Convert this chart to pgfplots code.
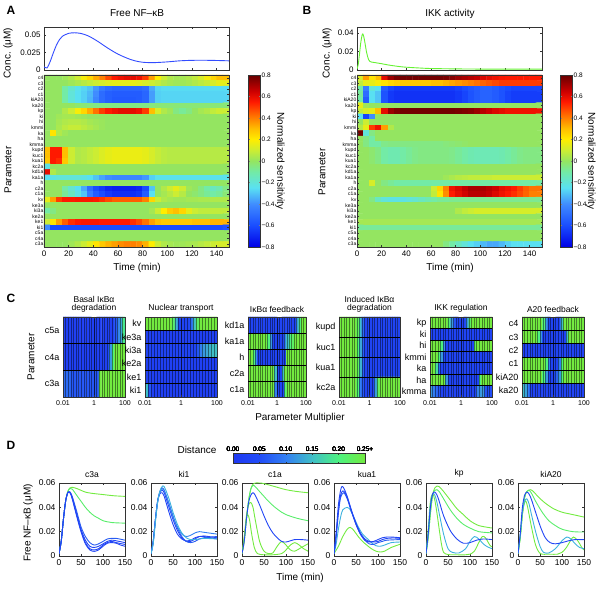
\documentclass[border=0pt]{standalone}
\usepackage{pgfplots}
\pgfplotsset{compat=1.18}
\usepackage{pgfplotstable}
\usepackage{fontspec}
\setmainfont{Liberation Sans}
\newcommand\fs[1]{\fontsize{#1}{#1}\selectfont}

\definecolor{dB}{rgb}{0.13,0.27,0.96}
\definecolor{dB2}{rgb}{0.16,0.36,0.95}
\definecolor{dM}{rgb}{0.2,0.5,0.95}
\definecolor{dC}{rgb}{0.24,0.7,0.87}
\definecolor{dG}{rgb}{0.35,0.93,0.42}
\definecolor{dGG}{rgb}{0.45,0.92,0.25}
\definecolor{topblue}{rgb}{0.2,0.3,1}
\definecolor{topgreen}{rgb}{0.4,0.95,0.2}

\pgfplotsset{
 colormap={sens}{rgb(0pt)=(0,0,0.9) rgb(20pt)=(0.1,0.3,1) rgb(40pt)=(0.25,0.55,1) rgb(55pt)=(0.35,0.88,0.95) rgb(70pt)=(0.45,0.92,0.65) rgb(80pt)=(0.58,0.9,0.38) rgb(90pt)=(0.8,0.93,0.2) rgb(100pt)=(1,0.93,0) rgb(110pt)=(1,0.75,0) rgb(120pt)=(1,0.5,0) rgb(135pt)=(1,0.1,0) rgb(145pt)=(0.8,0,0) rgb(160pt)=(0.4,0,0)},
 colormap={dist}{rgb(0pt)=(0.12,0.22,0.95) rgb(5pt)=(0.13,0.3,0.97) rgb(10pt)=(0.2,0.5,0.95) rgb(15pt)=(0.25,0.75,0.78) rgb(20pt)=(0.3,0.95,0.5) rgb(25pt)=(0.45,0.92,0.25)},
 base/.style={scale only axis, tick align=inside, axis line style={black!80, line width=0.4pt}, every tick/.style={black!80, line width=0.4pt}, major tick length=2pt, /pgf/number format/assume math mode=true, scaled ticks=false, tick label style={font=\fs{7.5}}, enlargelimits=false},
 heat/.style={base, width=185pt, height=172pt, xmin=0, xmax=150, ymin=-0.5, ymax=30.5, y dir=reverse, xtick={0,20,...,140}, ytick={0,1,...,30}, axis on top, point meta min=-0.8, point meta max=0.8, colormap name=sens, xticklabel style={font=\fs{8}}, yticklabel style={font=\fs{5}, inner sep=0.5pt}, major tick length=1.5pt,
   yticklabels={c4,c3,c2,c1,kiA20,ka20,kp,ki,hi,kmmi,ka,ha,kmma,kupd,kuc1,kua1,kc2a,kd1a,ka1a,h,c2a,c1a,kv,ke3a,ki3a,ke2a,ke1,ki1,c5a,c4a,c3a}},
 topl/.style={base, width=185pt, height=43pt, xmin=0, xmax=150, xtick={0,20,...,140}, xticklabels={}, yticklabel style={font=\fs{8}}},
 sub/.style={base, height=80pt, xmin=-2, xmax=2, ymin=-0.5, y dir=reverse, xtick={-2,0,2}, xticklabels={0.01,1,100}, xticklabel style={font=\fs{7}}, yticklabel style={font=\fs{9}}, ytick style={draw=none}, axis on top, point meta min=0, point meta max=0.25, colormap name=dist, minor xtick={-1.833333,-1.666667,...,1.9}, minor tick length=0pt, xmajorgrids, xminorgrids, x grid style={black, opacity=0.45, line width=0.3pt}, title style={font=\fs{8.5}, align=center, yshift=-5pt}, extra y tick labels={}, extra y tick style={grid=major, y grid style={black, line width=0.6pt}, major tick length=0pt}},
 dplot/.style={base, width=66pt, height=73pt, xmin=0, xmax=150, ymin=0, ymax=0.06, xtick={0,50,100,150}, ytick={0,0.02,0.04,0.06}, yticklabels={0,0.02,0.04,0.06}, tick label style={font=\fs{8.5}}, title style={font=\fs{8.5}, yshift=-4pt}, every axis plot/.append style={line width=0.9pt, smooth}},
 table/hm30/.style={x index=0, y index=0, meta index=0, x expr={2.5+5*(\coordindex-30*floor((\coordindex+0.5)/30))}, y expr={floor((\coordindex+0.5)/30)}},
 table/hm24/.style={x index=0, y index=0, meta index=0, x expr={-2+(\coordindex-24*floor((\coordindex+0.5)/24)+0.5)/6}, y expr={floor((\coordindex+0.5)/24)}},
}

\pgfplotstableread[row sep=crcr,header=false]{
0\\0\\0\\0.02\\0.05\\0.1\\0.18\\0.25\\0.33\\0.4\\
0.48\\0.55\\0.58\\0.6\\0.6\\0.58\\0.5\\0.35\\0.2\\0.1\\
0.05\\0.03\\0.03\\0.05\\0.08\\0.12\\0.18\\0.25\\0.3\\0.3\\
0\\0\\0\\0\\0.02\\0.04\\0.06\\0.08\\0.1\\0.12\\
0.14\\0.15\\0.15\\0.15\\0.15\\0.14\\0.12\\0.1\\0.08\\0.05\\
0.03\\0.02\\0.02\\0.03\\0.05\\0.07\\0.09\\0.12\\0.15\\0.15\\
0\\0\\0\\-0.1\\-0.18\\-0.24\\-0.27\\-0.3\\-0.38\\-0.46\\
-0.5\\-0.52\\-0.52\\-0.52\\-0.52\\-0.52\\-0.5\\-0.35\\-0.27\\-0.26\\
-0.26\\-0.26\\-0.26\\-0.26\\-0.26\\-0.26\\-0.26\\-0.26\\-0.26\\-0.26\\
0\\0\\0\\-0.1\\-0.2\\-0.25\\-0.28\\-0.32\\-0.4\\-0.5\\
-0.54\\-0.55\\-0.55\\-0.55\\-0.55\\-0.55\\-0.52\\-0.37\\-0.28\\-0.27\\
-0.27\\-0.27\\-0.27\\-0.27\\-0.27\\-0.27\\-0.27\\-0.27\\-0.27\\-0.27\\
0\\0\\0\\-0.1\\-0.2\\-0.25\\-0.28\\-0.33\\-0.42\\-0.5\\
-0.54\\-0.56\\-0.56\\-0.56\\-0.56\\-0.55\\-0.52\\-0.37\\-0.28\\-0.27\\
-0.27\\-0.27\\-0.27\\-0.27\\-0.27\\-0.27\\-0.27\\-0.27\\-0.27\\-0.27\\
0\\0\\0\\0\\0\\-0.02\\-0.03\\-0.04\\-0.05\\-0.05\\
-0.05\\-0.05\\-0.05\\-0.05\\-0.05\\-0.05\\-0.05\\-0.04\\-0.03\\-0.03\\
-0.03\\-0.03\\-0.03\\-0.03\\-0.03\\-0.03\\-0.03\\-0.03\\-0.03\\-0.03\\
0\\0\\0\\0.05\\0.1\\0.18\\0.25\\0.33\\0.42\\0.5\\
0.55\\0.58\\0.6\\0.6\\0.6\\0.58\\0.5\\0.3\\0.12\\0.05\\
0.02\\-0.05\\-0.08\\-0.05\\0\\0.03\\0.05\\0.08\\0.1\\0.1\\
0\\0\\0.02\\0.03\\0.03\\0.02\\0.01\\0\\0\\0\\
0\\0\\0\\0\\0\\0\\0\\0\\0\\0\\
0\\0\\0\\0\\0\\0\\0\\0\\0\\0\\
0\\0\\0.03\\0.05\\0.06\\0.06\\0.05\\0.03\\0.02\\0.01\\
0\\0\\0\\0\\0\\0\\0\\0\\0\\0\\
0\\0\\0\\0\\0\\0\\0\\0\\0\\0\\
0\\0\\0.04\\0.07\\0.09\\0.09\\0.07\\0.05\\0.03\\0.01\\
0\\0\\0\\0\\0\\0\\0\\0\\0\\0\\
0\\0\\0\\0\\0\\0\\0\\0\\0\\0\\
0\\0.22\\0.05\\0.02\\0\\0\\0\\0\\0\\0\\
0\\0\\0\\0\\0\\0\\0\\0\\0\\0\\
0\\0\\0\\0\\0\\0\\0\\0\\0\\0\\
0\\0\\0\\0\\0\\0\\0\\0\\0\\0\\
0\\0\\0\\0\\0\\0\\0\\0\\0\\0\\
0\\0\\0\\0\\0\\0\\0\\0\\0\\0\\
0\\0\\0\\0\\0\\0\\0\\0\\0\\0\\
0\\0\\0\\0\\0\\0\\0\\0\\0\\0\\
0\\0\\0\\0\\0\\0\\0\\0\\0\\0\\
0.3\\0.55\\0.55\\0.3\\0.1\\0.05\\0.06\\0.08\\0.1\\0.13\\
0.15\\0.16\\0.16\\0.16\\0.16\\0.16\\0.15\\0.12\\0.09\\0.07\\
0.06\\0.06\\0.06\\0.06\\0.06\\0.06\\0.06\\0.06\\0.06\\0.06\\
0.3\\0.55\\0.55\\0.3\\0.1\\0.05\\0.06\\0.08\\0.1\\0.13\\
0.15\\0.16\\0.16\\0.16\\0.16\\0.16\\0.15\\0.12\\0.09\\0.07\\
0.06\\0.06\\0.06\\0.06\\0.06\\0.06\\0.06\\0.06\\0.06\\0.06\\
0.28\\0.55\\0.52\\0.28\\0.1\\0.05\\0.06\\0.08\\0.1\\0.13\\
0.15\\0.16\\0.16\\0.16\\0.16\\0.16\\0.15\\0.12\\0.09\\0.07\\
0.06\\0.06\\0.06\\0.06\\0.06\\0.06\\0.06\\0.06\\0.06\\0.06\\
-0.22\\0\\0\\0\\0\\0\\0\\0\\0\\0\\
0\\0\\0\\0\\0\\0\\0\\0\\0\\0\\
0\\0\\0\\0\\0\\0\\0\\0\\0\\0\\
0.6\\0.05\\0\\0\\0\\0\\0\\0\\0\\0\\
0\\0\\0\\0\\0\\0\\0\\0\\0\\0\\
0\\0\\0\\0\\0\\0\\0\\0\\0\\0\\
-0.25\\-0.22\\-0.2\\-0.2\\-0.2\\-0.2\\-0.22\\-0.25\\-0.3\\-0.36\\
-0.4\\-0.42\\-0.42\\-0.42\\-0.42\\-0.42\\-0.38\\-0.28\\-0.24\\-0.24\\
-0.24\\-0.24\\-0.24\\-0.24\\-0.24\\-0.24\\-0.24\\-0.24\\-0.24\\-0.24\\
0\\0\\0\\0\\0\\0\\0\\0\\0\\0\\
0\\0\\0\\0\\0\\0\\0\\0\\0\\0\\
0\\0\\0\\0\\0\\0\\0\\0\\0\\0\\
0\\0\\0\\-0.1\\-0.18\\-0.25\\-0.35\\-0.5\\-0.6\\-0.65\\
-0.7\\-0.72\\-0.72\\-0.72\\-0.72\\-0.7\\-0.6\\-0.3\\0\\0.05\\
0.1\\0.15\\0.1\\0.02\\0\\-0.05\\-0.1\\-0.15\\-0.12\\-0.05\\
0\\0\\0\\-0.08\\-0.15\\-0.22\\-0.3\\-0.45\\-0.55\\-0.6\\
-0.65\\-0.68\\-0.68\\-0.68\\-0.68\\-0.66\\-0.55\\-0.25\\0\\0.03\\
0.06\\0.1\\0.06\\0\\-0.02\\-0.05\\-0.08\\-0.1\\-0.08\\-0.03\\
0.15\\0.35\\0.5\\0.55\\0.55\\0.56\\0.56\\0.56\\0.55\\0.52\\
0.48\\0.45\\0.45\\0.45\\0.45\\0.45\\0.4\\0.25\\0.1\\0.05\\
0.03\\0.02\\0.02\\0.03\\0.03\\0.04\\0.04\\0.05\\0.05\\0.05\\
0\\0\\0\\0\\0\\0\\0\\0\\0\\0\\
0\\0\\0\\0\\0\\0\\0\\0\\0\\0\\
0\\0\\0\\0\\0\\0\\0\\0\\0\\0\\
-0.1\\-0.05\\0\\0\\0\\0\\0\\0\\0\\0\\
0\\0\\0\\0\\0\\0\\0\\0.03\\0.1\\0.2\\
0.27\\0.3\\0.25\\0.15\\0.1\\0.08\\0.08\\0.08\\0.08\\0.08\\
0\\0\\0\\0\\0\\0\\0\\0\\0\\0\\
0\\0\\0\\0\\0\\0\\0\\0\\0\\0\\
0\\0\\0\\0\\0\\0\\0\\0\\0\\0\\
0.1\\0.22\\0.35\\0.45\\0.52\\0.55\\0.56\\0.56\\0.56\\0.55\\
0.55\\0.55\\0.55\\0.55\\0.52\\0.48\\0.42\\0.35\\0.3\\0.28\\
0.28\\0.28\\0.28\\0.28\\0.3\\0.3\\0.3\\0.32\\0.32\\0.32\\
-0.4\\-0.6\\-0.6\\-0.6\\-0.6\\-0.6\\-0.6\\-0.6\\-0.6\\-0.6\\
-0.6\\-0.6\\-0.6\\-0.6\\-0.6\\-0.6\\-0.6\\-0.6\\-0.6\\-0.6\\
-0.6\\-0.6\\-0.6\\-0.6\\-0.6\\-0.6\\-0.6\\-0.6\\-0.6\\-0.58\\
0\\0\\0\\0\\0\\0\\0\\0\\0\\0\\
0\\0\\0\\0\\0\\0\\0\\0\\0\\0\\
0\\0\\0\\0\\0\\0\\0\\0\\0\\0\\
0\\0\\0\\0\\0\\0\\0\\0\\0\\0\\
0\\0\\0\\0\\0\\0\\0\\0\\0\\0\\
0\\0\\0\\0\\0\\0\\0\\0\\0\\0\\
0\\0\\0\\0\\0.02\\0.05\\0.1\\0.15\\0.22\\0.28\\
0.32\\0.35\\0.38\\0.4\\0.4\\0.38\\0.32\\0.2\\0.1\\0.05\\
0.03\\0.02\\0.02\\0.03\\0.04\\0.06\\0.08\\0.1\\0.12\\0.12\\
}\tA

\pgfplotstableread[row sep=crcr,header=false]{
0.12\\0.35\\0.22\\0.3\\0.6\\0.72\\0.77\\0.78\\0.78\\0.78\\
0.78\\0.78\\0.78\\0.78\\0.77\\0.75\\0.72\\0.7\\0.68\\0.66\\
0.62\\0.6\\0.58\\0.56\\0.55\\0.55\\0.55\\0.55\\0.55\\0.55\\
0.08\\0.15\\0.15\\0.18\\0.22\\0.25\\0.27\\0.28\\0.28\\0.28\\
0.28\\0.28\\0.3\\0.3\\0.32\\0.34\\0.36\\0.38\\0.4\\0.42\\
0.44\\0.46\\0.48\\0.5\\0.5\\0.5\\0.5\\0.5\\0.5\\0.5\\
-0.1\\-0.45\\-0.2\\-0.25\\-0.55\\-0.62\\-0.65\\-0.65\\-0.65\\-0.65\\
-0.65\\-0.65\\-0.65\\-0.65\\-0.65\\-0.65\\-0.63\\-0.6\\-0.57\\-0.55\\
-0.53\\-0.53\\-0.55\\-0.58\\-0.6\\-0.62\\-0.62\\-0.62\\-0.62\\-0.62\\
-0.08\\-0.5\\-0.25\\-0.3\\-0.58\\-0.65\\-0.67\\-0.67\\-0.67\\-0.67\\
-0.67\\-0.67\\-0.67\\-0.67\\-0.67\\-0.67\\-0.65\\-0.62\\-0.58\\-0.55\\
-0.53\\-0.53\\-0.55\\-0.58\\-0.62\\-0.64\\-0.64\\-0.64\\-0.64\\-0.64\\
-0.1\\-0.55\\-0.25\\-0.3\\-0.58\\-0.65\\-0.67\\-0.67\\-0.67\\-0.67\\
-0.67\\-0.67\\-0.67\\-0.67\\-0.67\\-0.67\\-0.65\\-0.62\\-0.58\\-0.55\\
-0.53\\-0.53\\-0.55\\-0.58\\-0.62\\-0.64\\-0.64\\-0.64\\-0.64\\-0.64\\
0.15\\0.02\\0\\0\\0\\0\\0\\0\\0\\0\\
0\\0\\0\\0\\0\\0\\0\\0\\0\\0\\
0\\0\\0\\0\\0\\0\\0\\0\\0\\0\\
0.08\\0.12\\0.15\\0.3\\0.6\\0.72\\0.76\\0.78\\0.78\\0.78\\
0.78\\0.78\\0.78\\0.78\\0.78\\0.78\\0.77\\0.76\\0.75\\0.72\\
0.68\\0.65\\0.62\\0.6\\0.58\\0.58\\0.58\\0.58\\0.58\\0.58\\
-0.25\\-0.62\\-0.4\\0\\0\\0\\0\\0\\0\\0\\
0\\0\\0\\0\\0\\0\\0\\0\\0\\0\\
0\\0\\0\\0\\0\\0\\0\\0\\0\\0\\
0\\0.1\\0\\0\\0\\0\\0\\0\\0\\0\\
0\\0\\0\\0\\0\\0\\0\\0\\0\\0\\
0\\0\\0\\0\\0\\0\\0\\0\\0\\0\\
0.05\\0.15\\0.5\\0.58\\0.35\\0.05\\0\\0\\0\\0\\
0\\0\\0\\0\\0\\0\\0\\0\\0\\0\\
0\\0\\0\\0\\0\\0\\0\\0\\0\\0\\
0.78\\-0.2\\-0.05\\0\\0\\0\\0\\0\\0\\0\\
0\\0\\0\\0\\0\\0\\0\\0\\0\\0\\
0\\0\\0\\0\\0\\0\\0\\0\\0\\0\\
0\\-0.05\\-0.1\\0\\0\\0\\0\\0\\0\\0\\
0\\0\\0\\0\\0\\0\\0\\0\\0\\0\\
0\\0\\0\\0\\0\\0\\0\\0\\0\\0\\
0\\-0.05\\-0.1\\-0.1\\-0.06\\-0.05\\-0.05\\-0.05\\-0.05\\-0.05\\
-0.05\\-0.05\\-0.05\\-0.05\\-0.04\\-0.03\\-0.02\\-0.01\\0\\0\\
0\\0\\0\\0\\0\\0\\0\\0\\0\\0\\
0\\0\\-0.02\\-0.05\\-0.1\\-0.12\\-0.12\\-0.1\\-0.08\\-0.06\\
-0.05\\-0.05\\-0.05\\-0.05\\-0.05\\-0.06\\-0.08\\-0.1\\-0.12\\-0.13\\
-0.13\\-0.13\\-0.13\\-0.12\\-0.1\\-0.08\\-0.06\\-0.05\\-0.05\\-0.05\\
0\\0\\-0.02\\-0.05\\-0.1\\-0.12\\-0.12\\-0.1\\-0.08\\-0.06\\
-0.05\\-0.05\\-0.05\\-0.05\\-0.05\\-0.06\\-0.08\\-0.1\\-0.12\\-0.13\\
-0.13\\-0.13\\-0.13\\-0.12\\-0.1\\-0.08\\-0.06\\-0.05\\-0.05\\-0.05\\
0\\0\\-0.02\\-0.05\\-0.1\\-0.12\\-0.12\\-0.1\\-0.08\\-0.06\\
-0.05\\-0.05\\-0.05\\-0.05\\-0.05\\-0.06\\-0.08\\-0.1\\-0.12\\-0.13\\
-0.13\\-0.13\\-0.13\\-0.12\\-0.1\\-0.08\\-0.06\\-0.05\\-0.05\\-0.05\\
0\\0\\0\\0\\0\\0\\0\\0\\0\\0\\
0\\0\\0\\0\\0\\0\\0\\0\\0\\0\\
0\\0\\0\\0\\0\\0\\0\\0\\0\\0\\
0\\0\\0\\0\\0\\0\\0\\0\\0\\0\\
0\\0\\0\\0\\0\\0\\0\\0\\0\\0\\
0\\0\\0\\0\\0\\0\\0\\0\\0\\0\\
0\\0\\0\\0\\0\\0\\0\\0\\0\\0\\
0\\0\\0\\0\\0.02\\0.04\\0.06\\0.07\\0.08\\0.08\\
0.09\\0.09\\0.1\\0.1\\0.1\\0.1\\0.1\\0.1\\0.1\\0.1\\
0\\0\\0.12\\0\\-0.05\\-0.08\\-0.1\\-0.1\\-0.1\\-0.1\\
-0.1\\-0.1\\-0.1\\-0.1\\-0.1\\-0.1\\-0.1\\-0.1\\-0.1\\-0.1\\
-0.1\\-0.1\\-0.1\\-0.1\\-0.1\\-0.1\\-0.1\\-0.1\\-0.1\\-0.1\\
0\\0\\0\\0\\0\\0\\0\\0\\0\\0\\
0\\0\\0.1\\0.25\\0.4\\0.58\\0.62\\0.66\\0.7\\0.7\\
0.7\\0.68\\0.65\\0.6\\0.58\\0.55\\0.5\\0.45\\0.42\\0.42\\
0\\0\\0\\0\\0\\0\\0\\0\\0\\0\\
0\\0\\0.08\\0.22\\0.38\\0.55\\0.6\\0.64\\0.68\\0.68\\
0.68\\0.66\\0.62\\0.58\\0.55\\0.52\\0.48\\0.44\\0.4\\0.4\\
0\\0\\-0.05\\-0.15\\-0.2\\-0.22\\-0.22\\-0.22\\-0.2\\-0.18\\
-0.15\\-0.12\\-0.1\\-0.08\\-0.08\\-0.07\\-0.07\\-0.07\\-0.07\\-0.07\\
-0.07\\-0.07\\-0.07\\-0.07\\-0.07\\-0.07\\-0.07\\-0.07\\-0.07\\-0.07\\
0\\0\\0\\0\\0\\0\\0\\0\\0\\0\\
0\\0\\0\\0\\0\\0\\0\\0\\0\\0\\
0\\0\\0\\0\\0\\0\\0\\0\\0\\0\\
0\\0\\0\\0\\0\\0\\0\\0\\0\\0\\
0\\0\\0\\0\\0\\0\\0.05\\0.08\\0.1\\0.12\\
0.12\\0.12\\0.12\\0.12\\0.12\\0.12\\0.12\\0.12\\0.12\\0.12\\
0\\0\\0\\0\\0\\0\\0\\0\\0\\0\\
0\\0\\0\\0\\0\\0\\0\\0\\0\\0\\
0\\0\\0\\0\\0\\0\\0\\0\\0\\0\\
0.03\\0.03\\0.03\\0.03\\0.03\\0.03\\0.03\\0.03\\0.03\\0.03\\
0.03\\0.03\\0.03\\0.03\\0.03\\0.03\\0.03\\0.03\\0.03\\0.03\\
0.03\\0.03\\0.03\\0.03\\0.03\\0.03\\0.03\\0.03\\0.03\\0.03\\
-0.08\\-0.08\\-0.08\\-0.08\\-0.08\\-0.08\\-0.08\\-0.08\\-0.08\\-0.08\\
-0.08\\-0.08\\-0.08\\-0.08\\-0.08\\-0.08\\-0.08\\-0.08\\-0.08\\-0.08\\
-0.08\\-0.08\\-0.08\\-0.08\\-0.08\\-0.08\\-0.08\\-0.08\\-0.08\\-0.08\\
0\\0\\0\\0\\0\\0\\0\\0\\0\\0\\
0\\0\\0\\0\\0\\0\\0\\0\\0\\0\\
0\\0\\0\\0\\0\\0\\0\\0\\0\\0\\
0\\0\\0\\0\\0\\0\\0\\0\\0\\0\\
0\\0\\0\\0\\0\\0\\0\\0\\0\\0\\
0\\0\\0\\0\\0\\0\\0\\0\\0\\0\\
0\\0\\0\\0\\0\\0\\0\\0\\0\\0\\
0\\0\\0\\0\\-0.05\\-0.1\\-0.15\\-0.2\\-0.25\\-0.28\\
-0.32\\-0.35\\-0.35\\-0.32\\-0.28\\-0.25\\-0.25\\-0.25\\-0.25\\-0.25\\
}\tB

% Panel C tables: rows top to bottom, 24 multiplier columns (log10 -2..2)
\pgfplotstableread[row sep=crcr,header=false]{
0.02\\0.02\\0.02\\0.02\\0.02\\0.02\\0.02\\0.02\\0.02\\0.02\\0.02\\0.02\\
0.02\\0.02\\0.02\\0.02\\0.02\\0.02\\0.02\\0.02\\0.06\\0.1\\0.13\\0.19\\
0.02\\0.02\\0.02\\0.02\\0.02\\0.02\\0.02\\0.02\\0.02\\0.02\\0.02\\0.02\\
0.02\\0.02\\0.02\\0.02\\0.02\\0.05\\0.12\\0.2\\0.27\\0.27\\0.27\\0.27\\
0.08\\0.08\\0.08\\0.06\\0.06\\0.06\\0.06\\0.06\\0.06\\0.06\\0.06\\0.06\\
0.06\\0.06\\0.25\\0.27\\0.27\\0.27\\0.27\\0.27\\0.27\\0.27\\0.27\\0.27\\
}\tSa
\pgfplotstableread[row sep=crcr,header=false]{
0.27\\0.27\\0.27\\0.27\\0.27\\0.27\\0.27\\0.27\\0.27\\0.22\\0.14\\0.03\\
0.03\\0.03\\0.03\\0.08\\0.15\\0.22\\0.27\\0.27\\0.27\\0.27\\0.27\\0.27\\
0.02\\0.02\\0.02\\0.02\\0.02\\0.02\\0.02\\0.02\\0.02\\0.02\\0.02\\0.02\\
0.02\\0.02\\0.02\\0.02\\0.02\\0.02\\0.02\\0.02\\0.02\\0.02\\0.02\\0.02\\
0.03\\0.03\\0.03\\0.03\\0.03\\0.03\\0.03\\0.03\\0.03\\0.03\\0.03\\0.03\\
0.03\\0.03\\0.03\\0.03\\0.03\\0.06\\0.1\\0.12\\0.13\\0.14\\0.15\\0.15\\
0.02\\0.02\\0.02\\0.02\\0.02\\0.02\\0.02\\0.02\\0.02\\0.02\\0.02\\0.02\\
0.02\\0.02\\0.02\\0.02\\0.02\\0.02\\0.02\\0.02\\0.02\\0.02\\0.02\\0.02\\
0.02\\0.02\\0.02\\0.02\\0.02\\0.02\\0.02\\0.02\\0.02\\0.02\\0.02\\0.02\\
0.02\\0.02\\0.02\\0.02\\0.02\\0.02\\0.02\\0.02\\0.02\\0.02\\0.02\\0.02\\
0.15\\0.06\\0.02\\0.02\\0.02\\0.02\\0.02\\0.02\\0.02\\0.02\\0.02\\0.02\\
0.02\\0.02\\0.02\\0.02\\0.02\\0.02\\0.02\\0.02\\0.02\\0.02\\0.02\\0.02\\
}\tSb
\pgfplotstableread[row sep=crcr,header=false]{
0.03\\0.03\\0.03\\0.03\\0.03\\0.03\\0.03\\0.03\\0.03\\0.03\\0.03\\0.03\\
0.03\\0.03\\0.03\\0.03\\0.03\\0.03\\0.03\\0.03\\0.12\\0.2\\0.27\\0.27\\
0.27\\0.27\\0.27\\0.27\\0.27\\0.27\\0.27\\0.27\\0.2\\0.12\\0.03\\0.03\\
0.03\\0.03\\0.03\\0.1\\0.15\\0.2\\0.22\\0.25\\0.27\\0.27\\0.27\\0.27\\
0.27\\0.27\\0.2\\0.12\\0.03\\0.03\\0.03\\0.03\\0.03\\0.03\\0.03\\0.03\\
0.03\\0.03\\0.03\\0.03\\0.27\\0.27\\0.27\\0.27\\0.27\\0.27\\0.27\\0.27\\
0.27\\0.27\\0.27\\0.27\\0.27\\0.27\\0.27\\0.27\\0.27\\0.27\\0.27\\0.15\\
0.03\\0.03\\0.15\\0.27\\0.27\\0.27\\0.27\\0.27\\0.27\\0.27\\0.27\\0.27\\
0.27\\0.27\\0.27\\0.27\\0.27\\0.27\\0.27\\0.27\\0.27\\0.27\\0.27\\0.1\\
0.03\\0.03\\0.03\\0.2\\0.27\\0.27\\0.27\\0.27\\0.27\\0.27\\0.27\\0.27\\
}\tSc
\pgfplotstableread[row sep=crcr,header=false]{
0.27\\0.27\\0.27\\0.27\\0.27\\0.27\\0.27\\0.22\\0.15\\0.08\\0.03\\0.03\\
0.03\\0.03\\0.03\\0.03\\0.03\\0.03\\0.03\\0.03\\0.03\\0.03\\0.03\\0.03\\
0.27\\0.27\\0.27\\0.27\\0.27\\0.27\\0.27\\0.2\\0.13\\0.07\\0.03\\0.03\\
0.03\\0.03\\0.03\\0.03\\0.03\\0.03\\0.03\\0.03\\0.03\\0.03\\0.03\\0.03\\
0.27\\0.27\\0.27\\0.27\\0.27\\0.27\\0.27\\0.22\\0.14\\0.07\\0.03\\0.03\\
0.03\\0.03\\0.03\\0.03\\0.03\\0.03\\0.03\\0.03\\0.03\\0.03\\0.03\\0.03\\
0.27\\0.27\\0.27\\0.27\\0.27\\0.27\\0.27\\0.2\\0.1\\0.06\\0.03\\0.03\\
0.03\\0.03\\0.12\\0.22\\0.27\\0.27\\0.27\\0.27\\0.27\\0.27\\0.27\\0.27\\
}\tSd
\pgfplotstableread[row sep=crcr,header=false]{
0.27\\0.27\\0.27\\0.27\\0.27\\0.27\\0.27\\0.2\\0.12\\0.06\\0.03\\0.03\\
0.03\\0.03\\0.12\\0.22\\0.27\\0.27\\0.27\\0.27\\0.27\\0.27\\0.27\\0.27\\
0.03\\0.03\\0.03\\0.03\\0.03\\0.03\\0.03\\0.03\\0.03\\0.03\\0.03\\0.03\\
0.03\\0.03\\0.03\\0.03\\0.03\\0.03\\0.03\\0.03\\0.03\\0.03\\0.03\\0.03\\
0.27\\0.27\\0.27\\0.27\\0.2\\0.12\\0.03\\0.03\\0.03\\0.03\\0.03\\0.03\\
0.03\\0.03\\0.03\\0.03\\0.03\\0.22\\0.27\\0.27\\0.27\\0.27\\0.27\\0.27\\
0.27\\0.27\\0.27\\0.2\\0.12\\0.03\\0.03\\0.03\\0.03\\0.03\\0.03\\0.03\\
0.03\\0.03\\0.03\\0.03\\0.03\\0.03\\0.03\\0.03\\0.03\\0.03\\0.03\\0.03\\
0.27\\0.27\\0.18\\0.08\\0.03\\0.03\\0.03\\0.03\\0.03\\0.03\\0.03\\0.03\\
0.03\\0.03\\0.03\\0.03\\0.03\\0.03\\0.03\\0.03\\0.03\\0.03\\0.03\\0.03\\
0.27\\0.27\\0.27\\0.27\\0.27\\0.27\\0.12\\0.03\\0.03\\0.03\\0.03\\0.03\\
0.03\\0.03\\0.03\\0.03\\0.03\\0.03\\0.03\\0.2\\0.27\\0.27\\0.27\\0.27\\
0.12\\0.1\\0.08\\0.06\\0.03\\0.03\\0.03\\0.03\\0.03\\0.03\\0.03\\0.03\\
0.03\\0.03\\0.03\\0.03\\0.03\\0.03\\0.1\\0.12\\0.12\\0.06\\0.05\\0.05\\
}\tSe
\pgfplotstableread[row sep=crcr,header=false]{
0.27\\0.27\\0.27\\0.27\\0.27\\0.27\\0.27\\0.27\\0.2\\0.12\\0.03\\0.03\\
0.03\\0.03\\0.03\\0.15\\0.27\\0.27\\0.27\\0.27\\0.27\\0.27\\0.27\\0.27\\
0.27\\0.27\\0.27\\0.27\\0.27\\0.27\\0.2\\0.12\\0.03\\0.03\\0.03\\0.03\\
0.03\\0.03\\0.03\\0.03\\0.03\\0.15\\0.27\\0.27\\0.27\\0.27\\0.27\\0.27\\
0.03\\0.03\\0.03\\0.03\\0.03\\0.03\\0.03\\0.03\\0.03\\0.03\\0.03\\0.03\\
0.03\\0.03\\0.03\\0.03\\0.03\\0.03\\0.03\\0.03\\0.03\\0.03\\0.03\\0.03\\
0.27\\0.27\\0.27\\0.27\\0.27\\0.27\\0.27\\0.27\\0.27\\0.2\\0.1\\0.03\\
0.03\\0.03\\0.1\\0.2\\0.27\\0.27\\0.27\\0.27\\0.27\\0.27\\0.27\\0.27\\
0.27\\0.27\\0.27\\0.27\\0.27\\0.27\\0.27\\0.27\\0.2\\0.12\\0.03\\0.03\\
0.03\\0.07\\0.12\\0.2\\0.27\\0.27\\0.27\\0.27\\0.27\\0.27\\0.27\\0.27\\
0.15\\0.13\\0.1\\0.03\\0.03\\0.03\\0.03\\0.03\\0.03\\0.03\\0.03\\0.03\\
0.03\\0.03\\0.03\\0.03\\0.03\\0.03\\0.03\\0.03\\0.03\\0.03\\0.03\\0.03\\
}\tSf

\begin{document}
\begin{tikzpicture}[x=1pt,y=1pt]
\useasboundingbox (0,0) rectangle (600,594);

% ---------------- Panel A ----------------
\begin{axis}[topl, at={(44pt,567pt)}, anchor=north west, ymin=0, ymax=0.061, ytick={0,0.025,0.05}, yticklabels={0,0.025,0.05}]
\addplot[topblue, line width=0.9pt, smooth] coordinates {(0,0.0045)(2.5,0.003)(5,0.012)(7.5,0.024)(10,0.035)(12.5,0.043)(15,0.048)(20,0.052)(25,0.0528)(30,0.0518)(35,0.049)(40,0.0445)(45,0.039)(50,0.033)(55,0.0275)(60,0.0225)(65,0.0185)(70,0.015)(75,0.0125)(80,0.011)(85,0.0105)(90,0.0105)(100,0.0115)(110,0.013)(120,0.0137)(130,0.0138)(140,0.0135)(150,0.013)};
\end{axis}
\begin{axis}[heat, at={(44pt,519pt)}, anchor=north west]
\addplot[matrix plot*, mesh/cols=30, point meta=explicit] table[hm30] {\tA};
\end{axis}
\pgfplotscolorbardrawstandalone[colormap name=sens, point meta min=-0.8, point meta max=0.8,
  colorbar style={at={(240pt,519pt)}, anchor=north west, scale only axis, width=12pt, height=172pt, tick align=inside, major tick length=1.5pt,
  ytick={-0.8,-0.6,-0.4,-0.2,0,0.2,0.4,0.6,0.8}, yticklabels={−0.8,−0.6,−0.4,−0.2,0,0.2,0.4,0.6,0.8},
  yticklabel style={font=\fs{6.5}, inner sep=1pt}, axis line style={black!80}}]

\node[font=\bfseries\fs{12}] at (11,584) {A};
\node[font=\fs{10}] at (137,581) {Free NF–κB};
\node[font=\fs{10}, rotate=90] at (8,541) {Conc. (μM)};
\node[font=\fs{10}, rotate=90] at (8,424) {Parameter};
\node[font=\fs{10}] at (137,326) {Time (min)};
\node[font=\fs{10}, rotate=-90] at (280,433) {Normalized sensitivity};

% ---------------- Panel B ----------------
\begin{axis}[topl, at={(357pt,567pt)}, anchor=north west, ymin=0, ymax=0.0465, ytick={0,0.02,0.04}, yticklabels={0,0.02,0.04}]
\addplot[topgreen, line width=0.9pt, smooth] coordinates {(0,0.001)(1,0.006)(2,0.017)(3,0.029)(4,0.037)(4.7,0.039)(5.5,0.036)(6.5,0.029)(7.5,0.021)(8.5,0.015)(9.5,0.011)(10.5,0.0092)(12,0.0085)(15,0.0079)(20,0.0068)(25,0.0055)(30,0.0045)(35,0.0036)(40,0.003)(50,0.0022)(60,0.0016)(80,0.0012)(100,0.001)(150,0.001)};
\end{axis}
\begin{axis}[heat, at={(357pt,519pt)}, anchor=north west]
\addplot[matrix plot*, mesh/cols=30, point meta=explicit] table[hm30] {\tB};
\end{axis}
\pgfplotscolorbardrawstandalone[colormap name=sens, point meta min=-0.8, point meta max=0.8,
  colorbar style={at={(552pt,519pt)}, anchor=north west, scale only axis, width=12pt, height=172pt, tick align=inside, major tick length=1.5pt,
  ytick={-0.8,-0.6,-0.4,-0.2,0,0.2,0.4,0.6,0.8}, yticklabels={−0.8,−0.6,−0.4,−0.2,0,0.2,0.4,0.6,0.8},
  yticklabel style={font=\fs{6.5}, inner sep=1pt}, axis line style={black!80}}]

\node[font=\bfseries\fs{12}] at (307,584) {B};
\node[font=\fs{10}] at (450,580) {IKK activity};
\node[font=\fs{10}, rotate=90] at (327,541) {Conc. (μM)};
\node[font=\fs{10}, rotate=90] at (322,422) {Parameter};
\node[font=\fs{10}] at (450,326) {Time (min)};
\node[font=\fs{10}, rotate=-90] at (591,433) {Normalized sensitivity};

% ---------------- Panel C ----------------
\begin{axis}[sub, at={(63pt,277pt)}, anchor=north west, width=62pt, ymax=2.5, ytick={0,1,2}, yticklabels={c5a,c4a,c3a}, extra y ticks={0.5,1.5}, title={Basal IκBα\\degradation}]
\addplot[matrix plot*, mesh/cols=24, point meta=explicit] table[hm24] {\tSa};
\end{axis}
\begin{axis}[sub, at={(145pt,277pt)}, anchor=north west, width=72pt, ymax=5.5, ytick={0,...,5}, yticklabels={kv,ke3a,ki3a,ke2a,ke1,ki1}, extra y ticks={0.5,1.5,2.5,3.5,4.5}, title={Nuclear transport}]
\addplot[matrix plot*, mesh/cols=24, point meta=explicit] table[hm24] {\tSb};
\end{axis}
\begin{axis}[sub, at={(248pt,277pt)}, anchor=north west, width=58pt, ymax=4.5, ytick={0,...,4}, yticklabels={kd1a,ka1a,h,c2a,c1a}, extra y ticks={0.5,1.5,2.5,3.5}, title={IκBα feedback}]
\addplot[matrix plot*, mesh/cols=24, point meta=explicit] table[hm24] {\tSc};
\end{axis}
\begin{axis}[sub, at={(339pt,277pt)}, anchor=north west, width=61pt, ymax=3.5, ytick={0,...,3}, yticklabels={kupd,kuc1,kua1,kc2a}, extra y ticks={0.5,1.5,2.5}, title={Induced IκBα\\degradation}]
\addplot[matrix plot*, mesh/cols=24, point meta=explicit] table[hm24] {\tSd};
\end{axis}
\begin{axis}[sub, at={(430pt,277pt)}, anchor=north west, width=62pt, ymax=6.5, ytick={0,...,6}, yticklabels={kp,ki,hi,kmmi,ka,ha,kmma}, extra y ticks={0.5,1.5,2.5,3.5,4.5,5.5}, title={IKK regulation}]
\addplot[matrix plot*, mesh/cols=24, point meta=explicit] table[hm24] {\tSe};
\end{axis}
\begin{axis}[sub, at={(522pt,277pt)}, anchor=north west, width=62pt, ymax=5.5, ytick={0,...,5}, yticklabels={c4,c3,c2,c1,kiA20,ka20}, extra y ticks={0.5,1.5,2.5,3.5,4.5}, title={A20 feedback}]
\addplot[matrix plot*, mesh/cols=24, point meta=explicit] table[hm24] {\tSf};
\end{axis}

\node[font=\bfseries\fs{12}] at (11,296) {C};
\node[font=\fs{10}, rotate=90] at (31,237) {Parameter};
\node[font=\fs{10}] at (300,176) {Parameter Multiplier};

% ---------------- Panel D ----------------
\node[font=\bfseries\fs{12}] at (11,149) {D};
\node[font=\fs{10}] at (197,144) {Distance};
\pgfplotscolorbardrawstandalone[colormap name=dist, point meta min=0, point meta max=0.25, colorbar horizontal,
  colorbar style={at={(233pt,149pt)}, anchor=north west, scale only axis, width=132pt, height=10pt, tick align=inside, major tick length=1.5pt,
  xtick={0,0.05,0.1,0.15,0.2,0.25}, xticklabels={0.00,0.05,0.10,0.15,0.20,0.25+}, xticklabel pos=upper,
  xticklabel style={font=\fs{6.5}, inner sep=1.5pt}, axis line style={black!80}}]

\begin{axis}[dplot, at={(59pt,111pt)}, anchor=north west, title={c3a}]
\addplot[dGG] coordinates {(0,0.002)(5,0.012)(10,0.03)(15,0.045)(20,0.053)(25,0.056)(30,0.0565)(40,0.0555)(50,0.054)(60,0.0525)(75,0.0515)(100,0.0505)(125,0.0495)(150,0.049)};
\addplot[dG] coordinates {(0,0.002)(5,0.012)(10,0.03)(15,0.045)(20,0.053)(25,0.0555)(30,0.055)(40,0.05)(50,0.045)(60,0.04)(70,0.036)(80,0.033)(90,0.031)(100,0.029)(120,0.0275)(150,0.027)};
\addplot[dB] coordinates {(0,0.002)(5,0.012)(10,0.03)(15,0.045)(20,0.052)(25,0.052)(30,0.047)(40,0.033)(50,0.02)(60,0.01)(70,0.005)(80,0.0038)(90,0.005)(100,0.008)(110,0.0105)(120,0.011)(130,0.0105)(140,0.009)(150,0.008)};
\addplot[dB] coordinates {(0,0.002)(5,0.012)(10,0.03)(15,0.045)(20,0.052)(25,0.0525)(30,0.048)(40,0.035)(50,0.022)(60,0.013)(70,0.008)(80,0.007)(90,0.008)(100,0.01)(110,0.012)(120,0.013)(130,0.0125)(150,0.011)};
\addplot[dB2] coordinates {(0,0.002)(5,0.012)(10,0.03)(15,0.045)(20,0.052)(25,0.0525)(30,0.049)(40,0.037)(50,0.024)(60,0.016)(70,0.011)(80,0.009)(90,0.01)(100,0.012)(110,0.014)(120,0.0145)(130,0.0145)(150,0.013)};
\addplot[dB] coordinates {(0,0.002)(5,0.012)(10,0.03)(15,0.045)(20,0.052)(25,0.052)(30,0.048)(40,0.034)(50,0.021)(60,0.011)(70,0.006)(80,0.005)(90,0.006)(100,0.009)(110,0.011)(120,0.012)(130,0.011)(150,0.0095)};
\end{axis}

\begin{axis}[dplot, at={(151pt,111pt)}, anchor=north west, title={ki1}]
\addplot[dB] coordinates {(0,0.002)(5,0.012)(10,0.03)(15,0.045)(20,0.051)(25,0.052)(30,0.049)(40,0.037)(50,0.026)(60,0.018)(70,0.014)(80,0.0125)(90,0.013)(100,0.015)(110,0.016)(120,0.016)(135,0.015)(150,0.014)};
\addplot[dB] coordinates {(0,0.002)(5,0.012)(10,0.03)(15,0.045)(20,0.052)(25,0.054)(30,0.052)(40,0.041)(50,0.03)(60,0.021)(70,0.015)(80,0.012)(90,0.012)(100,0.014)(110,0.016)(120,0.0165)(150,0.015)};
\addplot[dB2] coordinates {(0,0.002)(5,0.012)(10,0.03)(15,0.045)(20,0.053)(25,0.056)(30,0.054)(40,0.044)(50,0.033)(60,0.023)(70,0.016)(80,0.012)(90,0.011)(100,0.012)(110,0.014)(120,0.015)(150,0.016)};
\addplot[dM] coordinates {(0,0.002)(5,0.011)(10,0.029)(15,0.044)(20,0.052)(26,0.055)(30,0.054)(40,0.044)(50,0.032)(60,0.024)(70,0.018)(80,0.016)(90,0.017)(100,0.019)(110,0.02)(120,0.0195)(150,0.018)};
\addplot[dC] coordinates {(0,0.002)(5,0.01)(10,0.028)(15,0.044)(20,0.053)(25,0.057)(30,0.057)(40,0.048)(50,0.036)(60,0.026)(70,0.019)(80,0.015)(90,0.0135)(100,0.0135)(110,0.014)(120,0.0145)(150,0.014)};
\end{axis}

\begin{axis}[dplot, at={(242pt,111pt)}, anchor=north west, title={c1a}]
\addplot[dGG] coordinates {(0,0.002)(5,0.012)(10,0.03)(15,0.045)(20,0.055)(25,0.059)(30,0.06)(40,0.06)(50,0.0595)(75,0.057)(100,0.0545)(125,0.053)(150,0.052)};
\addplot[dG] coordinates {(0,0.002)(5,0.012)(10,0.03)(15,0.046)(20,0.055)(25,0.058)(30,0.057)(40,0.053)(50,0.049)(60,0.045)(75,0.04)(90,0.036)(100,0.034)(125,0.031)(150,0.029)};
\addplot[dGG] coordinates {(0,0.002)(5,0.015)(10,0.033)(15,0.042)(20,0.044)(25,0.04)(30,0.03)(40,0.012)(50,0.004)(60,0.002)(70,0.0025)(80,0.008)(90,0.012)(100,0.009)(110,0.005)(120,0.004)(135,0.007)(150,0.01)};
\addplot[dGG] coordinates {(0,0.002)(5,0.015)(10,0.031)(13,0.034)(17,0.03)(22,0.018)(28,0.007)(35,0.002)(50,0.001)(70,0.001)(90,0.002)(100,0.005)(110,0.009)(120,0.011)(130,0.009)(140,0.006)(150,0.004)};
\addplot[dB] coordinates {(0,0.002)(5,0.012)(10,0.03)(15,0.044)(20,0.05)(25,0.052)(30,0.05)(40,0.042)(50,0.033)(60,0.025)(70,0.019)(80,0.015)(90,0.012)(100,0.0115)(110,0.0125)(120,0.0135)(135,0.0135)(150,0.013)};
\end{axis}

\begin{axis}[dplot, at={(334pt,111pt)}, anchor=north west, title={kua1}]
\addplot[dGG] coordinates {(0,0.002)(10,0.008)(20,0.016)(30,0.022)(37,0.0235)(45,0.021)(55,0.016)(65,0.012)(75,0.0088)(85,0.006)(95,0.004)(105,0.0033)(115,0.004)(130,0.007)(150,0.0096)};
\addplot[dC] coordinates {(0,0.002)(5,0.01)(10,0.022)(15,0.032)(20,0.038)(30,0.04)(35,0.039)(45,0.032)(55,0.024)(65,0.018)(75,0.0145)(85,0.011)(95,0.0085)(105,0.008)(115,0.009)(130,0.011)(150,0.0115)};
\addplot[dB2] coordinates {(0,0.002)(5,0.016)(10,0.035)(15,0.048)(22,0.052)(30,0.047)(40,0.036)(50,0.026)(60,0.018)(70,0.013)(80,0.01)(90,0.0095)(100,0.011)(110,0.012)(120,0.013)(150,0.0135)};
\addplot[dB] coordinates {(0,0.002)(5,0.017)(10,0.037)(15,0.05)(20,0.0535)(25,0.052)(30,0.048)(40,0.037)(50,0.027)(60,0.019)(70,0.014)(80,0.012)(90,0.0115)(100,0.012)(110,0.0135)(120,0.0145)(135,0.0148)(150,0.0145)};
\addplot[dB] coordinates {(0,0.002)(5,0.02)(10,0.042)(15,0.054)(18,0.057)(22,0.056)(30,0.049)(40,0.037)(50,0.026)(60,0.018)(70,0.013)(80,0.0115)(90,0.012)(100,0.0135)(110,0.015)(120,0.0156)(135,0.0155)(150,0.015)};
\end{axis}

\begin{axis}[dplot, at={(426pt,111pt)}, anchor=north west, title={kp}]
\addplot[dGG] coordinates {(0,0.002)(5,0.015)(10,0.035)(15,0.05)(20,0.056)(25,0.0575)(30,0.057)(40,0.053)(55,0.046)(70,0.039)(85,0.034)(100,0.029)(120,0.025)(150,0.023)};
\addplot[dG] coordinates {(0,0.002)(5,0.015)(10,0.035)(15,0.05)(20,0.054)(25,0.0545)(30,0.053)(40,0.047)(55,0.038)(70,0.031)(85,0.026)(100,0.023)(120,0.02)(150,0.019)};
\addplot[dGG] coordinates {(0,0.002)(5,0.022)(10,0.045)(15,0.051)(20,0.046)(25,0.035)(30,0.022)(35,0.01)(40,0.003)(50,0.0012)(70,0.001)(90,0.001)(100,0.0015)(110,0.004)(120,0.011)(128,0.016)(135,0.015)(145,0.009)(150,0.0075)};
\addplot[dC] coordinates {(0,0.002)(5,0.02)(10,0.042)(15,0.051)(20,0.05)(25,0.044)(30,0.035)(40,0.018)(50,0.006)(60,0.003)(75,0.0025)(90,0.006)(100,0.012)(110,0.016)(120,0.014)(130,0.01)(140,0.0075)(150,0.006)};
\addplot[dB] coordinates {(0,0.002)(5,0.018)(10,0.04)(15,0.051)(20,0.0525)(25,0.05)(30,0.045)(40,0.033)(55,0.021)(70,0.014)(85,0.0105)(100,0.011)(115,0.013)(130,0.014)(150,0.0135)};
\end{axis}

\begin{axis}[dplot, at={(518pt,111pt)}, anchor=north west, title={kiA20}]
\addplot[dGG] coordinates {(0,0.002)(5,0.015)(10,0.034)(15,0.048)(20,0.053)(28,0.0545)(35,0.053)(45,0.049)(60,0.044)(80,0.039)(100,0.036)(125,0.034)(150,0.032)};
\addplot[dG] coordinates {(0,0.002)(5,0.015)(10,0.034)(15,0.048)(20,0.053)(25,0.054)(30,0.052)(40,0.045)(55,0.036)(70,0.029)(85,0.025)(100,0.022)(125,0.02)(150,0.0197)};
\addplot[dGG] coordinates {(0,0.002)(5,0.016)(10,0.035)(15,0.044)(18,0.045)(22,0.04)(30,0.025)(40,0.009)(51,0.002)(70,0.0015)(90,0.0015)(100,0.003)(110,0.007)(120,0.013)(126,0.0156)(135,0.013)(145,0.007)(150,0.005)};
\addplot[dC] coordinates {(0,0.002)(5,0.017)(10,0.036)(15,0.045)(20,0.047)(25,0.043)(30,0.035)(40,0.02)(50,0.008)(58,0.003)(70,0.0025)(85,0.006)(100,0.0125)(111,0.0156)(120,0.014)(130,0.01)(140,0.007)(150,0.006)};
\addplot[dB] coordinates {(0,0.002)(5,0.018)(10,0.04)(15,0.05)(20,0.0525)(25,0.051)(30,0.047)(40,0.036)(51,0.024)(62,0.015)(73,0.011)(85,0.01)(100,0.011)(115,0.0125)(130,0.0135)(150,0.0134)};
\end{axis}

\node[font=\fs{10}, rotate=90] at (28,71) {Free NF–κB (μM)};
\node[font=\fs{10}] at (300,16) {Time (min)};
\end{tikzpicture}
\end{document}
